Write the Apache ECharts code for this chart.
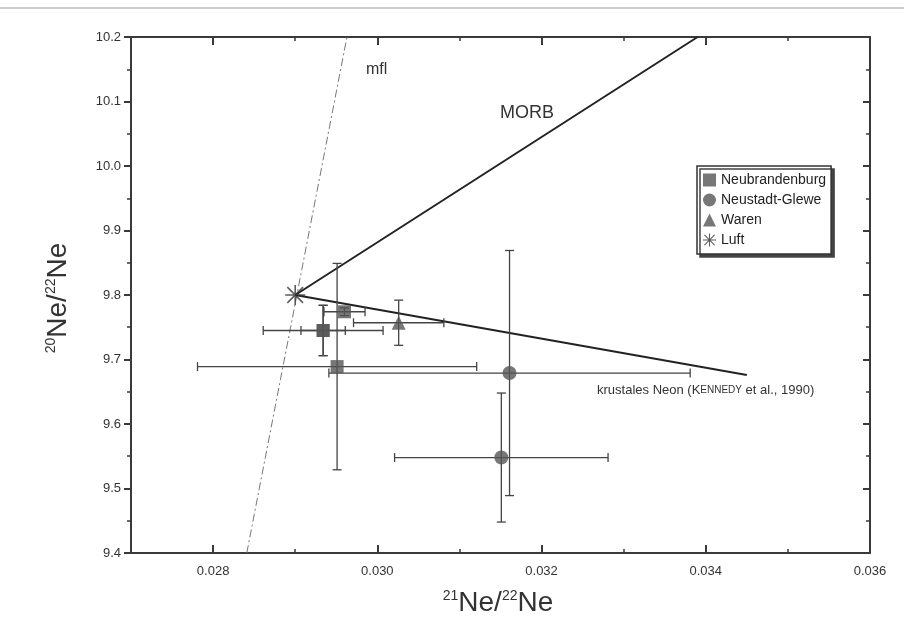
<!DOCTYPE html>
<html><head><meta charset="utf-8">
<script src="https://cdn.jsdelivr.net/npm/echarts@6/dist/echarts.min.js"></script>
<style>html,body{margin:0;padding:0;background:#fff}#c{width:904px;height:632px}</style>
</head><body><div id="c"></div>
<script>
// ---- data ----
const xMajorTicks = [0.028, 0.030, 0.032, 0.034, 0.036];
const xMinorTicks = [0.027, 0.029, 0.031, 0.033, 0.035];
const yTicks = [9.4, 9.5, 9.6, 9.7, 9.8, 9.9, 10.0, 10.1, 10.2];

const seriesNames = ['Neubrandenburg', 'Neustadt-Glewe', 'Waren', 'Luft'];

const nbX = [0.0296, 0.02934, 0.02934, 0.02951];
const nbY = [9.774, 9.745, 9.745, 9.689];
const nbXErr = [0.00025, 0.00073, 0.00027, 0.0017];
const nbYErr = [0.006, 0.039, 0.039, 0.16];

const ngX = [0.03161, 0.03151];
const ngY = [9.679, 9.548];
const ngXErr = [0.0022, 0.0013];
const ngYErr = [0.19, 0.10];

const waX = [0.03026];
const waY = [9.757];
const waXErr = [0.00055];
const waYErr = [0.035];

const luftX = [0.0290];
const luftY = [9.80];

const mflX = [0.02841, 0.02963];
const mflY = [9.4, 10.2];
const morbX = [0.0290, 0.0339];
const morbY = [9.80, 10.2];
const crustX = [0.0290, 0.0345];
const crustY = [9.80, 9.676];

// ---- helpers ----
const zip = (a, b) => a.map((v, i) => [v, b[i]]);
const zip4 = (a, b, c, d) => a.map((v, i) => [v, b[i], c[i], d[i]]);
const starPath = 'path://M0 9.2L20 9.2L20 10.8L0 10.8Z M9.2 0L10.8 0L10.8 20L9.2 20Z M1.6 2.7L2.7 1.6L18.4 17.3L17.3 18.4Z M17.3 1.6L18.4 2.7L2.7 18.4L1.6 17.3Z';
const ink = '#3a3a3a';
const markColor = '#555';
const FONT = 'Liberation Sans, Arial, sans-serif';

function errRender(params, api) {
  const x = api.value(0), y = api.value(1), xe = api.value(2), ye = api.value(3);
  const c = api.coord([x, y]);
  const st = { stroke: '#444', lineWidth: 1.3 };
  const cap = 4.5;
  const ch = [];
  const ln = (x1, y1, x2, y2) => ({ type: 'line', shape: { x1, y1, x2, y2 }, style: st });
  if (xe > 0) {
    const l = api.coord([x - xe, y]), r = api.coord([x + xe, y]);
    ch.push(ln(l[0], c[1], r[0], c[1]));
    ch.push(ln(l[0], c[1] - cap, l[0], c[1] + cap));
    ch.push(ln(r[0], c[1] - cap, r[0], c[1] + cap));
  }
  if (ye > 0) {
    const t = api.coord([x, y + ye]), b = api.coord([x, y - ye]);
    ch.push(ln(c[0], t[1], c[0], b[1]));
    ch.push(ln(c[0] - cap, t[1], c[0] + cap, t[1]));
    ch.push(ln(c[0] - cap, b[1], c[0] + cap, b[1]));
  }
  return { type: 'group', children: ch };
}
function errSeries(data) {
  return {
    type: 'custom', renderItem: errRender, data: data,
    encode: { x: 0, y: 1 }, dimensions: ['x', 'y', 'xe', 'ye'], z: 3, silent: true
  };
}

const baseX = { type: 'value', min: 0.027, max: 0.036, interval: 0.001, splitLine: { show: false } };
const baseY = { type: 'value', min: 9.4, max: 10.2, interval: 0.1, splitLine: { show: false } };

const chart = echarts.init(document.getElementById('c'), null, { renderer: 'canvas' });
chart.setOption({
  backgroundColor: '#fff',
  animation: false,
  grid: { left: 131, right: 34, top: 37, bottom: 79 },
  xAxis: [
    Object.assign({}, baseX, {
      position: 'bottom',
      axisLine: { show: true, onZero: false, lineStyle: { color: ink, width: 2 } },
      axisTick: { show: true, inside: true, length: 8, customValues: xMajorTicks, lineStyle: { color: ink, width: 2 } },
      axisLabel: { show: true, customValues: xMajorTicks, formatter: v => v.toFixed(3), fontSize: 13, color: '#333', margin: 12, fontFamily: FONT }
    }),
    Object.assign({}, baseX, {
      position: 'bottom',
      axisLine: { show: false, onZero: false },
      axisTick: { show: true, inside: true, length: 4, customValues: xMinorTicks, lineStyle: { color: ink, width: 1.5 } },
      axisLabel: { show: false }
    }),
    Object.assign({}, baseX, {
      position: 'top',
      axisLine: { show: true, onZero: false, lineStyle: { color: ink, width: 2 } },
      axisTick: { show: true, inside: true, length: 8, customValues: xMajorTicks, lineStyle: { color: ink, width: 2 } },
      axisLabel: { show: false }
    }),
    Object.assign({}, baseX, {
      position: 'top',
      axisLine: { show: false, onZero: false },
      axisTick: { show: true, inside: true, length: 4, customValues: xMinorTicks, lineStyle: { color: ink, width: 1.5 } },
      axisLabel: { show: false }
    })
  ],
  yAxis: [
    Object.assign({}, baseY, {
      position: 'left',
      axisLine: { show: true, onZero: false, lineStyle: { color: ink, width: 2 } },
      axisTick: { show: true, inside: false, length: 7, lineStyle: { color: ink, width: 2 } },
      minorTick: { show: true, splitNumber: 2, length: 4, lineStyle: { color: ink, width: 1.5 } },
      axisLabel: { show: true, formatter: v => v.toFixed(1), fontSize: 13, color: '#333', margin: 10, fontFamily: FONT }
    }),
    Object.assign({}, baseY, {
      position: 'right',
      axisLine: { show: true, onZero: false, lineStyle: { color: ink, width: 2 } },
      axisTick: { show: true, inside: true, length: 7, lineStyle: { color: ink, width: 2 } },
      minorTick: { show: true, splitNumber: 2, length: 4, lineStyle: { color: ink, width: 1.5 } },
      axisLabel: { show: false }
    })
  ],
  legend: {
    orient: 'vertical', left: 697, top: 166,
    data: [
      { name: seriesNames[0], icon: 'rect' },
      { name: seriesNames[1], icon: 'circle' },
      { name: seriesNames[2], icon: 'triangle' },
      { name: seriesNames[3], icon: starPath }
    ],
    itemWidth: 13, itemHeight: 13, itemGap: 6,
    textStyle: { fontSize: 14, color: '#222', fontFamily: FONT },
    backgroundColor: '#fff', borderColor: '#333', borderWidth: 1.5,
    borderRadius: 0, padding: [7, 5, 7, 6],
    shadowColor: '#444', shadowBlur: 0, shadowOffsetX: 3, shadowOffsetY: 3
  },
  series: [
    { name: 'mfl', type: 'line', data: zip(mflX, mflY), symbol: 'none', silent: true, z: 1,
      lineStyle: { color: '#777', width: 1, type: [8, 3, 2, 3] } },
    { name: 'MORB', type: 'line', data: zip(morbX, morbY), symbol: 'none', silent: true, z: 2,
      lineStyle: { color: '#222', width: 2 } },
    { name: 'krustal', type: 'line', data: zip(crustX, crustY), symbol: 'none', silent: true, z: 2,
      lineStyle: { color: '#222', width: 2 } },
    errSeries(zip4(nbX, nbY, nbXErr, nbYErr)),
    errSeries(zip4(ngX, ngY, ngXErr, ngYErr)),
    errSeries(zip4(waX, waY, waXErr, waYErr)),
    { name: seriesNames[0], type: 'scatter', data: zip(nbX, nbY), symbol: 'rect', symbolSize: 13, z: 5,
      itemStyle: { color: markColor } },
    { name: seriesNames[1], type: 'scatter', data: zip(ngX, ngY), symbol: 'circle', symbolSize: 14, z: 5,
      itemStyle: { color: markColor } },
    { name: seriesNames[2], type: 'scatter', data: zip(waX, waY), symbol: 'triangle', symbolSize: 14, z: 5,
      itemStyle: { color: markColor } },
    { name: seriesNames[3], type: 'scatter', data: zip(luftX, luftY), symbol: starPath, symbolSize: 20, z: 6,
      itemStyle: { color: '#333' } }
  ],
  graphic: [
    { type: 'line', shape: { x1: 0, y1: 8, x2: 904, y2: 8 }, style: { stroke: '#999', lineWidth: 1 }, silent: true },
    { type: 'text', left: 366, top: 62, style: { text: 'mfl', fontSize: 16, fill: '#333', fontFamily: FONT } },
    { type: 'text', left: 500, top: 104, style: { text: 'MORB', fontSize: 18, fill: '#333', fontFamily: FONT } },
    { type: 'text', left: 597, top: 384, style: {
        text: '{n|krustales Neon (}{n|K}{s|ENNEDY}{n| et al., 1990)}',
        rich: { n: { fontSize: 13, fill: '#333', fontFamily: FONT }, s: { fontSize: 10, fill: '#333', fontFamily: FONT } } } },
    { type: 'text', x: 498, y: 603, style: {
        text: '{sup|21}{m|Ne/}{sup|22}{m|Ne}', align: 'center', verticalAlign: 'middle',
        rich: { m: { fontSize: 28, fill: '#333', fontFamily: 'Liberation Sans Narrow, Liberation Sans, Arial', lineHeight: 30 },
                sup: { fontSize: 14, fill: '#333', fontFamily: 'Liberation Sans Narrow, Liberation Sans, Arial', padding: [0, 0, 14, 0] } } } },
    { type: 'text', x: 58, y: 298, rotation: Math.PI / 2, style: {
        text: '{sup|20}{m|Ne/}{sup|22}{m|Ne}', align: 'center', verticalAlign: 'middle',
        rich: { m: { fontSize: 28, fill: '#333', fontFamily: 'Liberation Sans Narrow, Liberation Sans, Arial', lineHeight: 30 },
                sup: { fontSize: 14, fill: '#333', fontFamily: 'Liberation Sans Narrow, Liberation Sans, Arial', padding: [0, 0, 14, 0] } } } }
  ]
});
</script></body></html>
